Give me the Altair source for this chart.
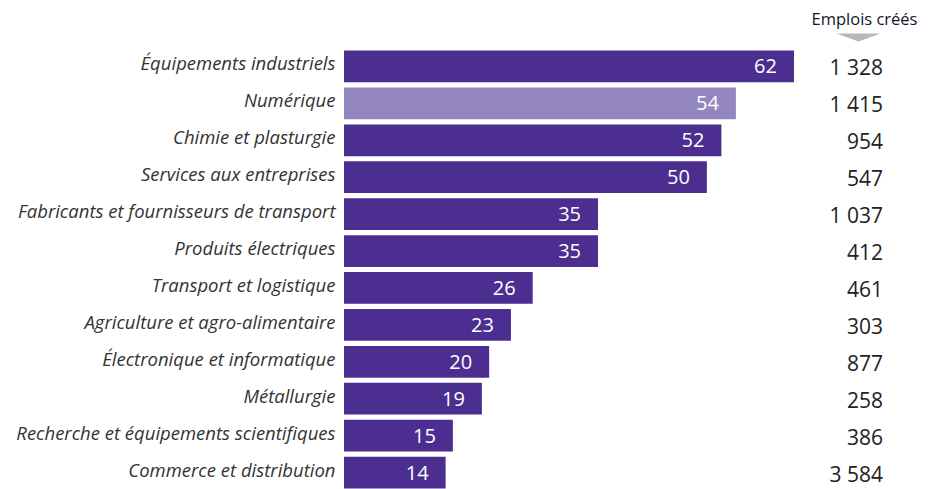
import altair as alt
import pandas as pd

categories = [
    "Équipements industriels",
    "Numérique",
    "Chimie et plasturgie",
    "Services aux entreprises",
    "Fabricants et fournisseurs de transport",
    "Produits électriques",
    "Transport et logistique",
    "Agriculture et agro-alimentaire",
    "Électronique et informatique",
    "Métallurgie",
    "Recherche et équipements scientifiques",
    "Commerce et distribution",
]
projects = [62, 54, 52, 50, 35, 35, 26, 23, 20, 19, 15, 14]
jobs = ["1 328", "1 415", "954", "547", "1 037", "412", "461", "303", "877", "258", "386", "3 584"]
highlight = ["Numérique"]

df = pd.DataFrame({
    "cat": categories,
    "val": projects,
    "jobs": jobs,
    "hl": ["oui" if c in highlight else "non" for c in categories],
})

FONT = "Open Sans"
y_enc = alt.Y("cat:N", sort=categories,
              scale=alt.Scale(paddingInner=0.14, paddingOuter=0.07),
              axis=alt.Axis(title=None, domain=False, ticks=False, labelPadding=9,
                            labelFont=FONT, labelFontSize=18.5, labelFontStyle="italic",
                            labelColor="#333333", labelOffset=-2, labelLimit=400))
x_scale = alt.Scale(domain=[0, 77.16])

base = alt.Chart(df)

bars = base.mark_bar().encode(
    x=alt.X("val:Q", scale=x_scale, axis=None),
    y=y_enc,
    color=alt.Color("hl:N", scale=alt.Scale(domain=["non", "oui"], range=["#4b2e8f", "#9486bf"]), legend=None),
)

vals = base.mark_text(align="right", baseline="middle", dx=-17, dy=1, color="white",
                      font=FONT, fontSize=20).encode(
    x=alt.X("val:Q", scale=x_scale),
    y=alt.Y("cat:N", sort=categories),
    text="val:Q",
)

jobs_txt = base.mark_text(align="right", baseline="middle", dy=3, color="#222222",
                          font=FONT, fontSize=21).encode(
    x=alt.value(539),
    y=alt.Y("cat:N", sort=categories),
    text="jobs:N",
)

header = alt.Chart(pd.DataFrame({"t": ["Emplois créés"]})).mark_text(
    align="center", baseline="middle", color="#15152b", font=FONT, fontSize=16.5
).encode(x=alt.value(520.5), y=alt.value(-28.4), text="t:N")

tri = alt.Chart(pd.DataFrame({"t": [1]})).mark_point(
    shape="M -1 -0.18 L 1 -0.18 L 0 0.18 Z", filled=True, color="#b8b8b8", opacity=1, size=1936
).encode(x=alt.value(514.5), y=alt.value(-10.5))

chart = alt.layer(bars, vals, jobs_txt, header, tri).properties(
    width=560, height=443,
    autosize=alt.AutoSizeParams(type="none"),
    padding={"left": 336, "top": 40, "right": 17, "bottom": 0},
).configure_view(stroke=None)

chart.save("out.html", embed_options={"renderer": "svg", "actions": False})
